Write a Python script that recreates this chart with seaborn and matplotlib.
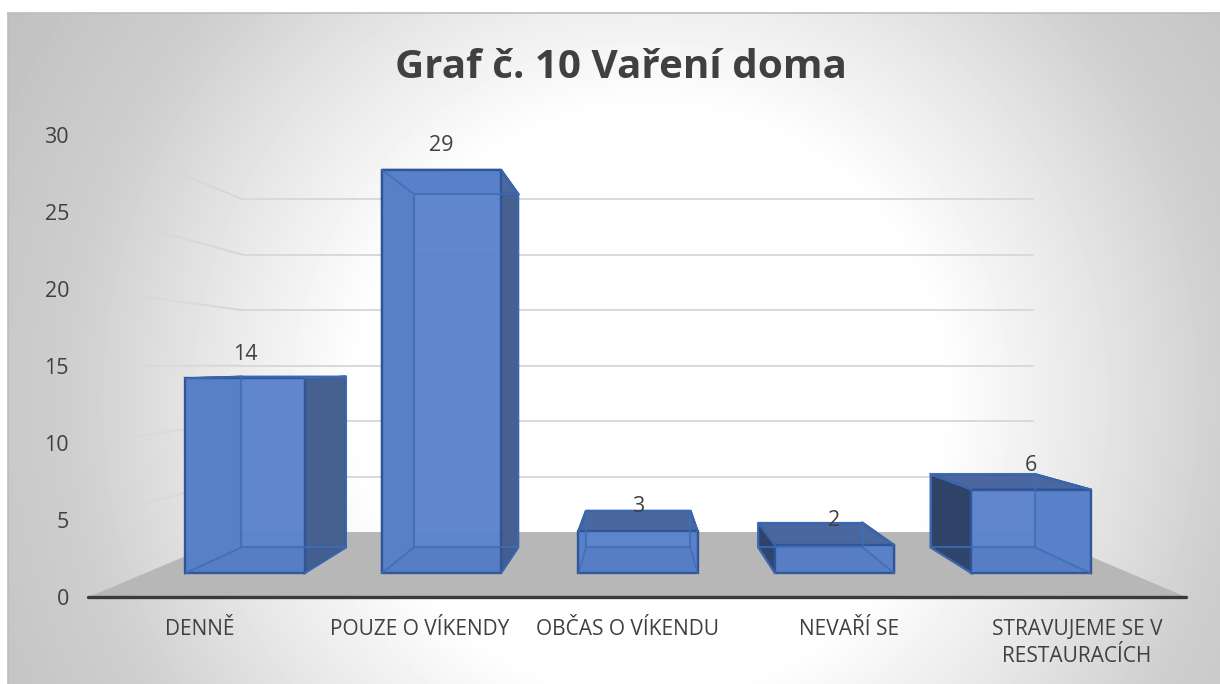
import numpy as np
import pandas as pd
import matplotlib.pyplot as plt
import seaborn as sns
from matplotlib.patches import Polygon

plt.switch_backend('Agg')

categories = ['DENNĚ', 'POUZE O VÍKENDY', 'OBČAS O VÍKENDU', 'NEVAŘÍ SE', 'STRAVUJEME SE V\nRESTAURACÍCH']
values = [14, 29, 3, 2, 6]
y_ticks = [0, 5, 10, 15, 20, 25, 30]

W, H = 1220, 684
TEXT = '#404040'

sns.set_theme(style='white')
plt.rcParams['font.family'] = ['Open Sans', 'DejaVu Sans']

fig = plt.figure(figsize=(W / 100, H / 100), dpi=100)
fig.patch.set_facecolor('white')

# radial background of the chart area
bg = fig.add_axes([8 / W, 0, (W - 8) / W, (H - 13) / H], zorder=0)
yy, xx = np.mgrid[13:H, 8:W]
r = np.hypot(xx - 650, yy - 400)
shade = np.interp(r, [290, 450, 580, 760], [1, 0.9, 0.81, 0.75])
bg.imshow(shade, cmap='gray', vmin=0, vmax=1, aspect='auto', extent=(8, W, H, 13))
bg.set_xticks([])
bg.set_yticks([])
for name in ['right', 'bottom']:
    bg.spines[name].set_visible(False)
for name in ['left', 'top']:
    bg.spines[name].set_color('#bdbdbd')
    bg.spines[name].set_linewidth(1.2)

# front plane of the bars: category units and value units
ax = fig.add_axes([0, 0, 1, 1], zorder=2)
ax.patch.set_visible(False)
df = pd.DataFrame({'kategorie': categories, 'pocet': values})
sns.barplot(data=df, x='kategorie', y='pocet', color='#5a83cc', saturation=1, width=0.606,
            alpha=0.96, edgecolor='#2f5597', linewidth=1.7, zorder=4, ax=ax)
px_x0, px_dx = 245, 196.5
ax.set_xlim(-px_x0 / px_dx, (W - px_x0) / px_dx)
ax.set_ylim(-(H - 573) / 13.9, 573 / 13.9)
ax.set_xlabel('')
ax.set_ylabel('')
ax.set_yticks([])
# category labels sit on the front edge of the floor, not under the bars
label_px = np.array([200, 420, 627.5, 849.5, 1077])
ax.set_xticks((label_px - px_x0) / px_dx, categories)
ax.tick_params(axis='x', length=0, pad=-(H - 619) * 0.72, labelsize=15, labelcolor=TEXT)
for lab in ax.get_xticklabels():
    lab.set_linespacing(1.4)
for s in ax.spines.values():
    s.set_visible(False)
ax.bar_label(ax.containers[0], padding=10, fontsize=15.5, color=TEXT, zorder=6)

# 3D depth of the bars, towards one vanishing point
vx = (640 - px_x0) / px_dx
vy = (573 - 365) / 13.9
depth = 0.877


def back(x, y):
    return vx + depth * (x - vx), vy + depth * (y - vy)


for bar in ax.containers[0]:
    x0, x1 = bar.get_x(), bar.get_x() + bar.get_width()
    top = bar.get_height()
    f = {'bl': (x0, 0), 'br': (x1, 0), 'tl': (x0, top), 'tr': (x1, top)}
    b = {k: back(*p) for k, p in f.items()}
    # faces lying behind the front one
    ax.add_patch(Polygon([f['tl'], f['tr'], b['tr'], b['tl']], fc='#4a689f', ec='#2f5597', lw=1.6, zorder=3.2))
    ax.add_patch(Polygon([f['tr'], f['br'], b['br'], b['tr']], fc='#46608f', ec='#2f5597', lw=1.6, zorder=3))
    ax.add_patch(Polygon([f['tl'], f['bl'], b['bl'], b['tl']], fc='#2f4369', ec='#2f5597', lw=1.6, zorder=3))
    # floor of the bar and back edges, seen through the front face
    ax.add_patch(Polygon([f['bl'], f['br'], b['br'], b['bl']], fc='#2f5597', alpha=0.13, ec='none', zorder=5))
    ax.add_patch(Polygon([b['bl'], b['br'], b['tr'], b['tl']], fc='none', ec='#3f6cb8', alpha=0.8, lw=1.5, zorder=5))
    for k in f:
        ax.plot([f[k][0], b[k][0]], [f[k][1], b[k][1]], color='#3f6cb8', alpha=0.8, lw=1.3, zorder=5)

# value axis with its own scale, floor and walls
ax2 = ax.twinx()
ax2.set_zorder(1)
ax2.patch.set_visible(False)
ax2.set_ylim(-(H - 597) / 15.4, 597 / 15.4)
ax2.set_yticks(y_ticks)
ax2.yaxis.tick_left()
ax2.tick_params(axis='y', length=0, pad=-69 * 0.72, labelsize=15.5, labelcolor=TEXT)
for s in ax2.spines.values():
    s.set_visible(False)
vy2 = (597 - 365) / 15.4
wall = 0.72
x_left, x_right = (88.5 - px_x0) / px_dx, (1186 - px_x0) / px_dx


def wall_back(x, y):
    return vx + wall * (x - vx), vy2 + wall * (y - vy2)


bl, br = wall_back(x_left, 0), wall_back(x_right, 0)
ax2.add_patch(Polygon([(x_left, 0), (x_right, 0), br, bl], fc='#b7b7b7', ec='none', zorder=2))
ax2.plot([x_left, x_right], [0, 0], color='#3a3a3a', lw=2.4, solid_capstyle='round', zorder=3)

for t in y_ticks[1:]:
    p_l = wall_back(x_left, t)
    p_r = wall_back(x_right, t)
    ax2.plot([p_l[0], p_r[0]], [p_l[1], p_r[1]], color='#d9d9d9', lw=1.4, zorder=1)
    # side wall line fading out to the left
    n = 14
    xs = np.linspace(x_left, p_l[0], n + 1)
    ys = np.linspace(t, p_l[1], n + 1)
    for i in range(n):
        ax2.plot(xs[i:i + 2], ys[i:i + 2], color='#d6d6d6', lw=1.4, alpha=(i + 1) / n,
                 solid_capstyle='butt', zorder=1)

fig.text(620.5 / W, 1 - 67 / H, 'Graf č. 10 Vaření doma', ha='center', va='center',
         fontsize=29.1, fontweight='bold', color=TEXT)

plt.savefig('out.png', dpi=100)
plt.close()
